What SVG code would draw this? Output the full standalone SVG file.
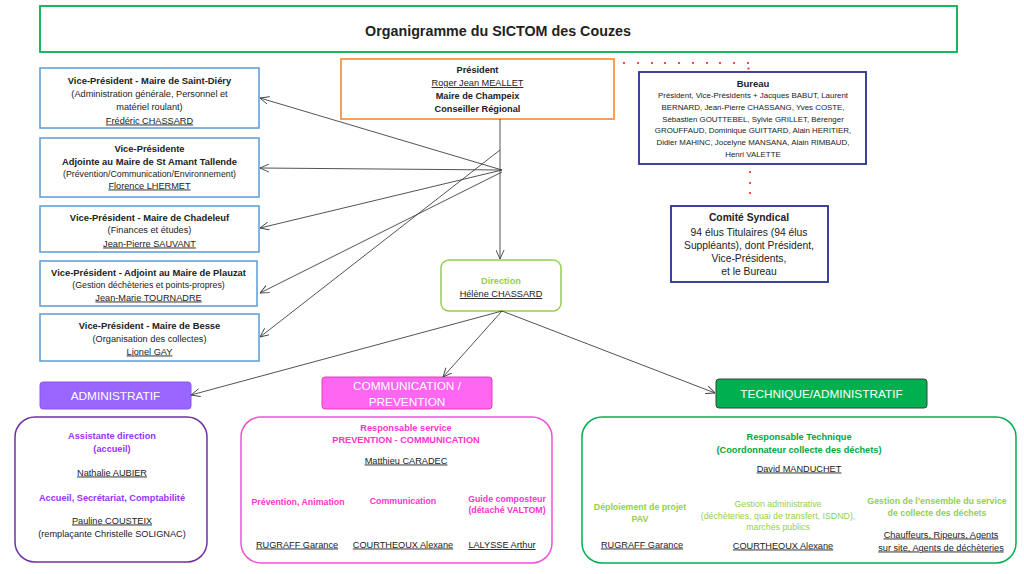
<svg xmlns="http://www.w3.org/2000/svg" width="1024" height="574" viewBox="0 0 1024 574">
<defs>
<marker id="arr" viewBox="0 0 10 10" refX="10" refY="5" markerWidth="9" markerHeight="9" orient="auto" markerUnits="userSpaceOnUse">
<path d="M0,0.5 L10,5 L0,9.5" fill="none" stroke="#404040" stroke-width="1"/>
</marker>
<style>
text{font-family:"Liberation Sans",Arial,sans-serif;text-anchor:middle;fill:#222}
.b{font-weight:bold}
.u{text-decoration:underline}
.vp{fill:#fff;stroke:#5b9bd5;stroke-width:1.5}
.nv{fill:#fff;stroke:#2b2f96;stroke-width:1.8}
.conn line{stroke:#404040;stroke-width:0.9;marker-end:url(#arr)}
.hd{fill:#fff;font-size:11.8px}
.dot{fill:#ff2020}
</style>
</defs>
<rect width="1024" height="574" fill="#fff"/>

<g id="title">
<rect x="40" y="6" width="917" height="46" fill="#fff" stroke="#00b050" stroke-width="1.8"/>
<text x="498" y="36" class="b" style="font-size:14.3px">Organigramme du SICTOM des Couzes</text>
</g>

<g id="president">
<rect x="341" y="59" width="273" height="60" fill="#fff" stroke="#f79646" stroke-width="1.8"/>
<text x="477.5" y="73" class="b" style="font-size:9.2px">Président</text>
<text x="477.5" y="86" class="u" style="font-size:9.2px">Roger Jean MEALLET</text>
<text x="477.5" y="99" class="b" style="font-size:9.2px">Maire de Champeix</text>
<text x="477.5" y="112" class="b" style="font-size:9.2px">Conseiller Régional</text>
</g>

<g id="vp1">
<rect class="vp" x="40" y="68" width="219" height="60"/>
<text x="149.5" y="83.5" class="b" style="font-size:9.4px">Vice-Président - Maire de Saint-Diéry</text>
<text x="149.5" y="96.5" style="font-size:9.2px">(Administration générale, Personnel et</text>
<text x="149.5" y="110" style="font-size:9.2px">matériel roulant)</text>
<text x="149.5" y="123.5" class="u" style="font-size:9.2px">Frédéric CHASSARD</text>
</g>

<g id="vp2">
<rect class="vp" x="40" y="138" width="219" height="59"/>
<text x="149.5" y="152" class="b" style="font-size:9.4px">Vice-Présidente</text>
<text x="149.5" y="165" class="b" style="font-size:9.4px">Adjointe au Maire de St Amant Tallende</text>
<text x="149.5" y="176.5" style="font-size:8.8px">(Prévention/Communication/Environnement)</text>
<text x="149.5" y="188.5" class="u" style="font-size:9.2px">Florence LHERMET</text>
</g>

<g id="vp3">
<rect class="vp" x="40" y="206" width="219" height="46"/>
<text x="149.5" y="220.5" class="b" style="font-size:9.4px">Vice-Président - Maire de Chadeleuf</text>
<text x="149.5" y="233" style="font-size:9.2px">(Finances et études)</text>
<text x="149.5" y="246.5" class="u" style="font-size:9.2px">Jean-Pierre SAUVANT</text>
</g>

<g id="vp4">
<rect class="vp" x="40" y="261" width="217" height="45"/>
<text x="148.5" y="275.5" class="b" style="font-size:9.4px">Vice-Président - Adjoint au Maire de Plauzat</text>
<text x="148.5" y="287.5" style="font-size:8.8px">(Gestion déchèteries et points-propres)</text>
<text x="148.5" y="300.5" class="u" style="font-size:9.2px">Jean-Marie TOURNADRE</text>
</g>

<g id="vp5">
<rect class="vp" x="40" y="314" width="219" height="47"/>
<text x="149.5" y="328.5" class="b" style="font-size:9.4px">Vice-Président - Maire de Besse</text>
<text x="149.5" y="341.5" style="font-size:9.2px">(Organisation des collectes)</text>
<text x="149.5" y="354.5" class="u" style="font-size:9.2px">Lionel GAY</text>
</g>

<g id="bureau">
<rect class="nv" x="639" y="72" width="227" height="92"/>
<text x="753" y="86.5" class="b" style="font-size:9.5px">Bureau</text>
<text x="753" y="98" style="font-size:7.9px">Président, Vice-Présidents + Jacques BABUT, Laurent</text>
<text x="753" y="110" style="font-size:7.9px">BERNARD, Jean-Pierre CHASSANG, Yves COSTE,</text>
<text x="753" y="121.5" style="font-size:7.9px">Sébastien GOUTTEBEL, Sylvie GRILLET, Bérenger</text>
<text x="753" y="133" style="font-size:7.9px">GROUFFAUD, Dominique GUITTARD, Alain HERITIER,</text>
<text x="753" y="145" style="font-size:7.9px">Didier MAHINC, Jocelyne MANSANA, Alain RIMBAUD,</text>
<text x="753" y="156.5" style="font-size:7.9px">Henri VALETTE</text>
</g>

<g id="comite">
<rect class="nv" x="671" y="206" width="157" height="76"/>
<text x="749" y="221" class="b" style="font-size:10.3px">Comité Syndical</text>
<text x="749" y="235.5" style="font-size:10.3px">94 élus Titulaires (94 élus</text>
<text x="749" y="248.5" style="font-size:10.3px">Suppléants), dont Président,</text>
<text x="749" y="261.5" style="font-size:10.3px">Vice-Présidents,</text>
<text x="749" y="274.5" style="font-size:10.3px">et le Bureau</text>
</g>

<g id="dots">
<circle class="dot" cx="624" cy="63" r="1.1"/>
<circle class="dot" cx="638" cy="63" r="1.1"/>
<circle class="dot" cx="652" cy="63" r="1.1"/>
<circle class="dot" cx="665" cy="63" r="1.1"/>
<circle class="dot" cx="679" cy="63" r="1.1"/>
<circle class="dot" cx="693" cy="63" r="1.1"/>
<circle class="dot" cx="707" cy="63" r="1.1"/>
<circle class="dot" cx="720" cy="63" r="1.1"/>
<circle class="dot" cx="734" cy="63" r="1.1"/>
<circle class="dot" cx="748" cy="63" r="1.1"/>
<circle class="dot" cx="748.5" cy="68.5" r="1.1"/>
<circle class="dot" cx="750" cy="172" r="1.1"/>
<circle class="dot" cx="750" cy="183" r="1.1"/>
<circle class="dot" cx="750" cy="193" r="1.1"/>
</g>

<g id="direction">
<rect x="441" y="260" width="120" height="51" rx="8" fill="#fff" stroke="#92d050" stroke-width="1.5"/>
<text x="501" y="284" class="b" style="font-size:9.2px;fill:#92d050">Direction</text>
<text x="501" y="297" class="u" style="font-size:9.2px">Hélène CHASSARD</text>
</g>

<g id="administratif">
<rect x="40" y="382" width="151" height="27" rx="3" fill="#9966ff" stroke="#8a55e8" stroke-width="1"/>
<text x="115.5" y="400" class="hd">ADMINISTRATIF</text>
</g>

<g id="communication">
<rect x="322" y="377" width="170" height="32" rx="3" fill="#ff66f2" stroke="#e83cb8" stroke-width="1"/>
<text x="407" y="389.5" class="hd">COMMUNICATION /</text>
<text x="407" y="406" class="hd">PREVENTION</text>
</g>

<g id="technique">
<rect x="716" y="379" width="211" height="29" rx="3" fill="#00b050" stroke="#3f3f3f" stroke-width="1"/>
<text x="821.5" y="397.5" class="hd">TECHNIQUE/ADMINISTRATIF</text>
</g>

<g id="admin-team">
<rect x="15" y="417" width="192" height="145" rx="20" fill="#fff" stroke="#7030a0" stroke-width="1.5"/>
<text x="112" y="438.5" class="b" style="font-size:9.2px;fill:#9933ff">Assistante direction</text>
<text x="112" y="451.5" class="b" style="font-size:9.2px;fill:#9933ff">(accueil)</text>
<text x="112" y="475.5" class="u" style="font-size:9.2px">Nathalie AUBIER</text>
<text x="112" y="500.5" class="b" style="font-size:9.2px;fill:#9933ff">Accueil, Secrétariat, Comptabilité</text>
<text x="112" y="523.5" class="u" style="font-size:9.2px">Pauline COUSTEIX</text>
<text x="112" y="536.5" style="font-size:9.2px">(remplaçante Christelle SOLIGNAC)</text>
</g>

<g id="comm-team">
<rect x="241" y="417" width="311" height="146" rx="20" fill="#fff" stroke="#f050d8" stroke-width="1.5"/>
<text x="406" y="430.5" class="b" style="font-size:9.2px;fill:#ff33cc">Responsable service</text>
<text x="406" y="442.5" class="b" style="font-size:9.2px;fill:#ff33cc">PREVENTION - COMMUNICATION</text>
<text x="406" y="463.5" class="u" style="font-size:9.2px">Matthieu CARADEC</text>
<text x="298" y="504.5" class="b" style="font-size:8.8px;fill:#ff33cc">Prévention, Animation</text>
<text x="403" y="503.5" class="b" style="font-size:8.8px;fill:#ff33cc">Communication</text>
<text x="507" y="501.5" class="b" style="font-size:8.8px;fill:#ff33cc">Guide composteur</text>
<text x="507" y="512.5" class="b" style="font-size:8.8px;fill:#ff33cc">(détaché VALTOM)</text>
<text x="297" y="547.5" class="u" style="font-size:9.2px">RUGRAFF Garance</text>
<text x="403" y="547.5" class="u" style="font-size:9.2px">COURTHEOUX Alexane</text>
<text x="502" y="548" class="u" style="font-size:9.2px">LALYSSE Arthur</text>
</g>

<g id="tech-team">
<rect x="582" y="417" width="434" height="146" rx="20" fill="#fff" stroke="#00b050" stroke-width="1.5"/>
<text x="799" y="439.5" class="b" style="font-size:9.2px;fill:#00a83c">Responsable Technique</text>
<text x="799" y="452.5" class="b" style="font-size:9.2px;fill:#00a83c">(Coordonnateur collecte des déchets)</text>
<text x="799" y="471.5" class="u" style="font-size:9.2px">David MANDUCHET</text>
<text x="640" y="510" class="b" style="font-size:8.8px;fill:#92d050">Déploiement de projet</text>
<text x="640" y="521.5" class="b" style="font-size:8.8px;fill:#92d050">PAV</text>
<text x="778" y="506.5" style="font-size:8.8px;fill:#92d050">Gestion administrative</text>
<text x="778" y="518.5" style="font-size:8.8px;fill:#92d050">(déchèteries, quai de transfert, ISDND),</text>
<text x="778" y="529.5" style="font-size:8.8px;fill:#92d050">marchés publics</text>
<text x="937" y="503.5" class="b" style="font-size:8.8px;fill:#92d050">Gestion de l’ensemble du service</text>
<text x="937" y="516" class="b" style="font-size:8.8px;fill:#92d050">de collecte des déchets</text>
<text x="642" y="547.5" class="u" style="font-size:9.2px">RUGRAFF Garance</text>
<text x="783" y="548.5" class="u" style="font-size:9.2px">COURTHEOUX Alexane</text>
<text x="941" y="537.5" class="u" style="font-size:9.2px">Chauffeurs, Ripeurs, Agents</text>
<text x="941" y="550.5" class="u" style="font-size:9.2px">sur site, Agents de déchèteries</text>
</g>

<g id="connectors" class="conn">
<line x1="500" y1="119" x2="500" y2="259"/>
<line x1="502" y1="170" x2="260" y2="98"/>
<line x1="502" y1="170" x2="260" y2="168"/>
<line x1="502" y1="170" x2="260" y2="228"/>
<line x1="502" y1="172" x2="260" y2="293"/>
<line x1="500" y1="150" x2="260" y2="337"/>
<line x1="502" y1="311" x2="191" y2="395"/>
<line x1="502" y1="311" x2="443" y2="377"/>
<line x1="502" y1="311" x2="715" y2="393"/>
</g>
</svg>
